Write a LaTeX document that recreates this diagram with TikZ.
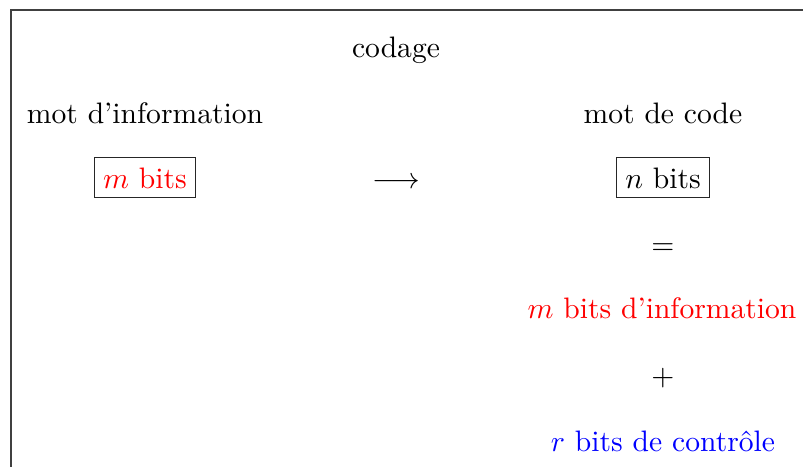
\documentclass[tikz,border=0pt]{standalone}
\begin{document}
\begin{tikzpicture}[x=0.3378pt, y=-0.3378pt,
  txt/.style={anchor=base, inner sep=0pt},
  bitbox/.style={anchor=base, draw=black!85, line width=0.4pt, inner xsep=3pt, inner ysep=3.3pt, text depth=0pt},
  frame/.style={draw=black!75, line width=0.4pt}]
  \useasboundingbox (0,0) rectangle (803,466);
  \clip (0,0) rectangle (803,466);
  % outer frame (continues past the page edge)
  \draw[frame] (11,10) rectangle (830,490);
  % titles
  \node[txt] (codage) at (396,57) {codage};
  \node[txt] (src) at (145,123) {mot d'information};
  \node[txt] (dst) at (663,123) {mot de code};
  % words
  \node[bitbox] (mbits) at (145,188) {\color{red}$m$ bits};
  \node[txt] (arrow) at (396,188) {$\longrightarrow$};
  \node[bitbox] (nbits) at (663,188) {$n$ bits};
  % decomposition of the code word
  \node[txt] (eq) at (663,254) {$=$};
  \node[txt, text=red] (info) at (662,318) {$m$ bits d'information};
  \node[txt] (plus) at (663,385) {$+$};
  \node[txt, text=blue] (ctrl) at (663,451) {$r$ bits de contr\^ole};
\end{tikzpicture}
\end{document}
